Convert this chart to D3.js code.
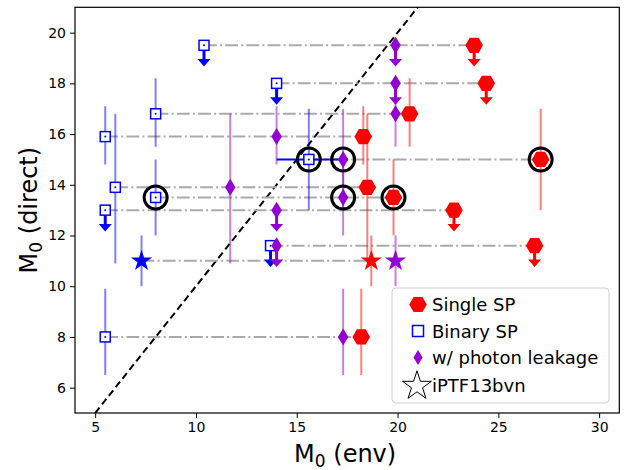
<!DOCTYPE html>
<html>
<head>
<meta charset="utf-8">
<script src="https://cdn.jsdelivr.net/npm/d3@7"></script>
<style>
  body { margin: 0; background: #fff; }
  text { font-family: "DejaVu Sans", sans-serif; }
</style>
</head>
<body>
<div id="chart"></div>
<script>
// progenitor mass from direct detection vs. from the environment
var mDirect = [19.5, 18.0, 16.8, 15.9, 15.0, 13.9, 13.5, 13.0, 11.6, 8.0];
var dirLo   = [18.7, 17.2, 15.5, 14.8, 13.0, 10.9, 12.0, 12.2, 10.8, 6.5];
var dirHi   = [19.5, 18.0, 18.2, 17.1, 17.0, 16.8, 15.0, 13.0, 11.6, 9.9];
var upperLim = [true, true, false, false, false, false, false, true, true, false];
var circled  = [false, false, false, false, true, false, true, false, false, false];

var mSingle = [23.8, 24.4, 20.6, 18.3, 27.1, 18.5, 19.8, 22.8, 26.8, 18.2];
var mBinary = [10.4, 14.0, 8.0, 5.5, 15.6, 6.0, 8.0, 5.5, 13.7, 5.5];
var mLeak   = [19.9, 19.9, 19.9, 14.0, 17.3, 11.7, 17.3, 14.0, 14.0, 17.3];

// binary x error for the one object that has it
var binXerr = [null, null, null, null, [14.0, 17.3], null, null, null, null, null];

// iPTF13bvn
var iptfDirect = 11.0, iptfLo = 10.0, iptfHi = 12.0;
var iptfSingle = 18.7, iptfBinary = 7.3, iptfLeak = 19.9;

var xTicks = [5, 10, 15, 20, 25, 30];
var yTicks = [6, 8, 10, 12, 14, 16, 18, 20];
var legendLabels = ["Single SP", "Binary SP", "w/ photon leakage", "iPTF13bvn"];

var RED = "#ff0000", BLUE = "#0000ff", PURPLE = "#9400d3";

var margin = { top: 7.3, right: 7.7, bottom: 57, left: 75 },
    width = 627 - margin.left - margin.right,
    height = 470 - margin.top - margin.bottom;

var svg = d3.select("#chart").append("svg")
    .attr("width", 627)
    .attr("height", 470);

var g = svg.append("g")
    .attr("transform", "translate(" + margin.left + "," + margin.top + ")");

var x = d3.scaleLinear().domain([4, 31]).range([0, width]);
var y = d3.scaleLinear().domain([5, 21]).range([height, 0]);

svg.append("defs").append("clipPath").attr("id", "clip")
    .append("rect").attr("width", width).attr("height", height);

var plot = g.append("g").attr("clip-path", "url(#clip)");

// one-to-one line
plot.append("line")
    .attr("x1", x(5)).attr("y1", y(5))
    .attr("x2", x(21)).attr("y2", y(21))
    .attr("stroke", "#000").attr("stroke-width", 2)
    .attr("stroke-dasharray", "7,4");

// grey connectors binary -> single
var rows = mDirect.map(function (d, i) { return i; });
plot.selectAll(".conn").data(rows).enter().append("line")
    .attr("x1", function (i) { return x(mBinary[i]); })
    .attr("x2", function (i) { return x(mSingle[i]); })
    .attr("y1", function (i) { return y(mDirect[i]); })
    .attr("y2", function (i) { return y(mDirect[i]); })
    .attr("stroke", "#aaa").attr("stroke-width", 2)
    .attr("stroke-dasharray", "12.8,3.2,2,3.2");
plot.append("line")
    .attr("x1", x(iptfBinary)).attr("x2", x(iptfSingle))
    .attr("y1", y(iptfDirect)).attr("y2", y(iptfDirect))
    .attr("stroke", "#aaa").attr("stroke-width", 2)
    .attr("stroke-dasharray", "12.8,3.2,2,3.2");

// error bars (with-errors rows only)
var errRows = rows.filter(function (i) { return !upperLim[i]; });
function errBars(xs, color) {
    plot.append("g").selectAll("line").data(errRows).enter().append("line")
        .attr("x1", function (i) { return x(xs[i]); })
        .attr("x2", function (i) { return x(xs[i]); })
        .attr("y1", function (i) { return y(dirLo[i]); })
        .attr("y2", function (i) { return y(dirHi[i]); })
        .attr("stroke", color).attr("stroke-opacity", 0.5).attr("stroke-width", 2);
}
errBars(mBinary, BLUE);
errBars(mLeak, PURPLE);
errBars(mSingle, RED);

[[iptfBinary, BLUE], [iptfLeak, PURPLE], [iptfSingle, RED]].forEach(function (p) {
    plot.append("line")
        .attr("x1", x(p[0])).attr("x2", x(p[0]))
        .attr("y1", y(iptfLo)).attr("y2", y(iptfHi))
        .attr("stroke", p[1]).attr("stroke-opacity", 0.5).attr("stroke-width", 2);
});

// binary x error
rows.filter(function (i) { return binXerr[i]; }).forEach(function (i) {
    plot.append("line")
        .attr("x1", x(binXerr[i][0])).attr("x2", x(binXerr[i][1]))
        .attr("y1", y(mDirect[i])).attr("y2", y(mDirect[i]))
        .attr("stroke", BLUE).attr("stroke-width", 2);
});

// upper limit arrows
var limRows = rows.filter(function (i) { return upperLim[i]; });
function arrows(xs, color) {
    var a = plot.append("g").selectAll("g").data(limRows).enter().append("g")
        .attr("transform", function (i) { return "translate(" + x(xs[i]) + ",0)"; });
    a.append("line")
        .attr("y1", function (i) { return y(mDirect[i]); })
        .attr("y2", function (i) { return y(dirLo[i]) - 4; })
        .attr("stroke", color).attr("stroke-width", 3);
    a.append("path")
        .attr("d", function (i) {
            var t = y(dirLo[i]) + 1;
            return "M-6.5," + (t - 7.5) + "L6.5," + (t - 7.5) + "L0," + t + "Z";
        })
        .attr("fill", color);
}
arrows(mBinary, BLUE);
arrows(mLeak, PURPLE);
arrows(mSingle, RED);

// marker shapes
function hexPath(r) {
    var pts = d3.range(6).map(function (k) {
        var a = Math.PI / 3 * k;
        return [r * Math.cos(a), r * Math.sin(a)];
    });
    return "M" + pts.join("L") + "Z";
}
function diamondPath(w, h) {
    return "M0," + (-h / 2) + "L" + (w / 2) + ",0L0," + (h / 2) + "L" + (-w / 2) + ",0Z";
}
var starPath = d3.symbol().type(d3.symbolStar).size(140)();

// binary squares
var sq = plot.append("g").selectAll("g").data(rows).enter().append("g")
    .attr("transform", function (i) { return "translate(" + x(mBinary[i]) + "," + y(mDirect[i]) + ")"; });
sq.append("rect").attr("x", -5).attr("y", -5).attr("width", 10).attr("height", 10)
    .attr("fill", "#fff").attr("stroke", BLUE).attr("stroke-width", 1.5);
sq.append("circle").attr("r", 1).attr("fill", BLUE);

// leakage diamonds
plot.append("g").selectAll("path").data(rows).enter().append("path")
    .attr("d", diamondPath(10.5, 17))
    .attr("transform", function (i) { return "translate(" + x(mLeak[i]) + "," + y(mDirect[i]) + ")"; })
    .attr("fill", PURPLE);

// single hexagons
plot.append("g").selectAll("path").data(rows).enter().append("path")
    .attr("d", hexPath(8.8))
    .attr("transform", function (i) { return "translate(" + x(mSingle[i]) + "," + y(mDirect[i]) + ")"; })
    .attr("fill", RED);

// iPTF13bvn stars
[[iptfBinary, BLUE], [iptfLeak, PURPLE], [iptfSingle, RED]].forEach(function (p) {
    plot.append("path").attr("d", starPath)
        .attr("transform", "translate(" + x(p[0]) + "," + y(iptfDirect) + ")")
        .attr("fill", p[1]);
});

// black circles
var circRows = rows.filter(function (i) { return circled[i]; });
[mBinary, mLeak, mSingle].forEach(function (xs) {
    plot.append("g").selectAll("circle").data(circRows).enter().append("circle")
        .attr("cx", function (i) { return x(xs[i]); })
        .attr("cy", function (i) { return y(mDirect[i]); })
        .attr("r", 11.5)
        .attr("fill", "none").attr("stroke", "#000").attr("stroke-width", 3);
});

// axes
var xAxis = g.append("g").attr("transform", "translate(0," + height + ")")
    .call(d3.axisBottom(x).tickValues(xTicks).tickSize(5).tickPadding(4).tickFormat(d3.format("d")));
var yAxis = g.append("g")
    .call(d3.axisLeft(y).tickValues(yTicks).tickSize(5).tickPadding(4).tickFormat(d3.format("d")));
[xAxis, yAxis].forEach(function (a) {
    a.select(".domain").remove();
    a.selectAll("text").attr("font-size", 14).attr("fill", "#000")
        .attr("font-family", "DejaVu Sans");
    a.selectAll("line").attr("stroke", "#000").attr("stroke-width", 1);
});

g.append("rect").attr("width", width).attr("height", height)
    .attr("fill", "none").attr("stroke", "#000").attr("stroke-width", 1.2);

// axis labels
var xl = svg.append("text").attr("x", margin.left + width / 2 - 2).attr("y", 462)
    .attr("text-anchor", "middle").attr("font-size", 24);
xl.append("tspan").text("M");
xl.append("tspan").attr("font-size", 17).attr("dy", 5).text("0");
xl.append("tspan").attr("dy", -5).text(" (env)");

var yl = svg.append("text")
    .attr("transform", "translate(37," + (margin.top + height / 2) + ") rotate(-90)")
    .attr("text-anchor", "middle").attr("font-size", 24);
yl.append("tspan").text("M");
yl.append("tspan").attr("font-size", 17).attr("dy", 5).text("0");
yl.append("tspan").attr("dy", -5).text(" (direct)");

// legend
var leg = svg.append("g").attr("transform", "translate(392,288)");
leg.append("rect").attr("width", 217).attr("height", 115).attr("rx", 4)
    .attr("fill", "#fff").attr("fill-opacity", 0.8)
    .attr("stroke", "#d0d0d0").attr("stroke-width", 1);
var legY = [16.5, 43, 69.5, 97];
var li = leg.selectAll(".li").data(legendLabels).enter().append("g")
    .attr("transform", function (d, k) { return "translate(26," + legY[k] + ")"; });
li.append("text").attr("x", 14).attr("y", 6.5).attr("font-size", 18).text(function (d) { return d; });
d3.select(li.nodes()[0]).append("path").attr("d", hexPath(8.8)).attr("fill", RED);
d3.select(li.nodes()[1]).append("rect").attr("x", -5.5).attr("y", -5.5)
    .attr("width", 11).attr("height", 11).attr("fill", "none")
    .attr("stroke", BLUE).attr("stroke-width", 1.5);
d3.select(li.nodes()[2]).append("path").attr("d", diamondPath(9, 15)).attr("fill", PURPLE);
d3.select(li.nodes()[3]).append("path")
    .attr("d", d3.symbol().type(d3.symbolStar).size(260)())
    .attr("transform", "translate(-1,1)")
    .attr("fill", "#fff").attr("stroke", "#000").attr("stroke-width", 1);
</script>
</body>
</html>
